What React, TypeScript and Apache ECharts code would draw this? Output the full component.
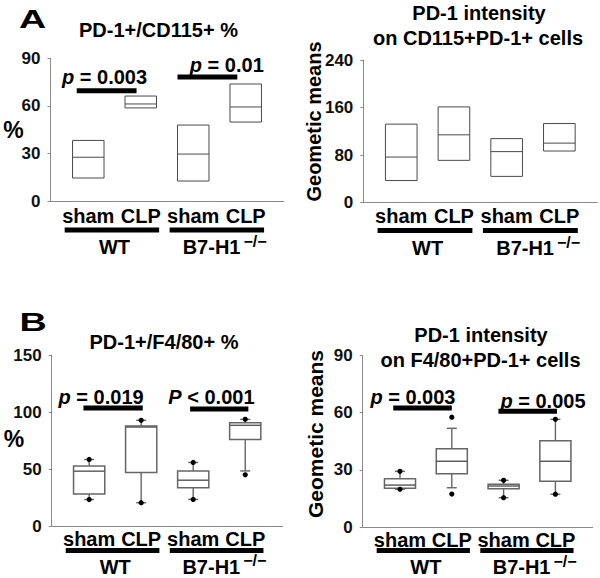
import React, { useEffect, useRef } from 'react';
import * as echarts from 'echarts';

const FONT = "'Liberation Sans', Arial, Helvetica, sans-serif";

// ---------- shared categories ----------
const conditions = ['sham', 'CLP', 'sham', 'CLP'];
const positions = [1, 2, 3, 4];
const groups = ['WT', 'B7-H1'];
const groupSup = ['', '−/−'];
const groupMembers = [[1, 2], [3, 4]];

// ---------- Panel A left: PD-1+/CD115+ % ----------
const cd115PctTicks = [0, 30, 60, 90];
const cd115PctLow = [14.5, 58.7, 12.6, 49.8];
const cd115PctMedian = [27.6, 61.2, 29.6, 59.3];
const cd115PctHigh = [38.2, 66.2, 47.9, 73.8];
const cd115PctSigFrom = [0.78, 2.7];
const cd115PctSigTo = [1.92, 3.84];
const cd115PctSigY = [69.6, 78.2];
const cd115PctTextX = [1.31, 3.64];
const cd115PctTextY = [78.2, 85.8];
const cd115PctText = ['{i|p} = 0.003', '{i|p} = 0.01'];

// ---------- Panel A right: PD-1 intensity on CD115+PD-1+ ----------
const cd115MfiTicks = [0, 80, 160, 240];
const cd115MfiLow = [37, 71, 44, 86.7];
const cd115MfiMedian = [76.5, 114, 85.7, 100];
const cd115MfiHigh = [132, 161, 107.6, 133];

// ---------- Panel B left: PD-1+/F4/80+ % ----------
const f480PctTicks = [0, 50, 100, 150];
const f480PctWhiskerLow = [23.6, 20.8, 23.7, 48.6];
const f480PctQ1 = [28.5, 47.3, 33.8, 76];
const f480PctMedian = [48.4, 87.0, 40.5, 88.5];
const f480PctQ3 = [53.0, 87.9, 48.6, 90.8];
const f480PctWhiskerHigh = [58.6, 92.9, 56, 93.7];
const f480PctDotLow = [23.6, 20.8, 23.7, 45.2];
const f480PctDotHigh = [58.6, 92.9, 56, 93.7];
const f480PctSigFrom = [0.89, 2.94];
const f480PctSigTo = [2.03, 4.06];
const f480PctSigY = [103.6, 102.8];
const f480PctTextX = [1.23, 3.35];
const f480PctTextY = [113, 113.3];
const f480PctText = ['{i|p} = 0.019', '{i|P} < 0.001'];

// ---------- Panel B right: PD-1 intensity on F4/80+PD-1+ ----------
const f480MfiTicks = [0, 30, 60, 90];
const f480MfiWhiskerLow = [19.8, 20.6, 15.4, 17.2];
const f480MfiQ1 = [20.3, 28, 20.1, 24];
const f480MfiMedian = [22, 34.5, 21.5, 34.5];
const f480MfiQ3 = [25.3, 41.1, 22.4, 45.3];
const f480MfiWhiskerHigh = [29.2, 51.8, 24.5, 56.5];
const f480MfiDotLow = [19.8, 17.3, 15.4, 17.2];
const f480MfiDotHigh = [29.2, 57.6, 24.5, 56.5];
const f480MfiSigFrom = [0.87, 2.9];
const f480MfiSigTo = [2.0, 4.03];
const f480MfiSigY = [62.4, 60.7];
const f480MfiTextX = [1.25, 3.76];
const f480MfiTextY = [68.1, 66.3];
const f480MfiText = ['{i|p} = 0.003', '{i|p} = 0.005'];

// ---------- layout / style ----------
const X_MIN = 0.28;
const X_MAX = 4.72;
const BOX_W = 0.6;
const AXIS_COLOR = '#8a8a8a';
const BOX_COLOR = '#4a4a4a';

const grids = [
  { left: 50.5, top: 58.3, width: 233, height: 142.7 },
  { left: 363.3, top: 60, width: 234, height: 142.5 },
  { left: 51.7, top: 355, width: 231, height: 171.5 },
  { left: 362.7, top: 355.5, width: 230, height: 171.5 },
];
// pixel offsets below the x axis: condition label, group bar, group label
const labelOffsets = [
  { cond: 14.5, bar: 29, group: 46 },
  { cond: 13.5, bar: 28, group: 45.5 },
  { cond: 12.5, bar: 24, group: 40 },
  { cond: 13, bar: 23.5, group: 40 },
];

function yAxisFor(idx: number, ticks: number[]) {
  return {
    type: 'value',
    gridIndex: idx,
    min: ticks[0],
    max: ticks[ticks.length - 1],
    interval: ticks[1] - ticks[0],
    axisLine: { show: true, lineStyle: { color: AXIS_COLOR, width: 1 } },
    axisTick: { show: true, inside: false, length: 3, lineStyle: { color: AXIS_COLOR } },
    axisLabel: {
      show: true,
      margin: 10,
      color: '#111',
      fontFamily: FONT,
      fontWeight: 'bold',
      fontSize: 17,
    },
    splitLine: { show: false },
  };
}

function xAxisFor(idx: number) {
  return {
    type: 'value',
    gridIndex: idx,
    min: X_MIN,
    max: X_MAX,
    axisLine: { show: true, onZero: false, lineStyle: { color: AXIS_COLOR, width: 1 } },
    axisTick: { show: false },
    axisLabel: { show: false },
    splitLine: { show: false },
  };
}

function simpleBoxSeries(idx: number, low: number[], med: number[], high: number[]) {
  return {
    type: 'custom',
    xAxisIndex: idx,
    yAxisIndex: idx,
    data: positions.map((p, i) => [p, low[i], med[i], high[i]]),
    encode: { x: 0, y: [1, 2, 3] },
    renderItem: (params: any, api: any) => {
      const x = api.value(0);
      const w = api.size([BOX_W, 0])[0];
      const lo = api.coord([x, api.value(1)]);
      const md = api.coord([x, api.value(2)]);
      const hi = api.coord([x, api.value(3)]);
      return {
        type: 'group',
        children: [
          {
            type: 'rect',
            shape: { x: lo[0] - w / 2, y: hi[1], width: w, height: lo[1] - hi[1] },
            style: { fill: 'none', stroke: BOX_COLOR, lineWidth: 1 },
          },
          {
            type: 'line',
            shape: { x1: md[0] - w / 2, y1: md[1], x2: md[0] + w / 2, y2: md[1] },
            style: { stroke: BOX_COLOR, lineWidth: 1 },
          },
        ],
      };
    },
  };
}

function whiskerBoxSeries(
  idx: number,
  wl: number[], q1: number[], med: number[], q3: number[], wh: number[],
  dl: number[], dh: number[],
) {
  return {
    type: 'custom',
    xAxisIndex: idx,
    yAxisIndex: idx,
    data: positions.map((p, i) => [p, wl[i], q1[i], med[i], q3[i], wh[i], dl[i], dh[i]]),
    encode: { x: 0, y: [1, 2, 3, 4, 5, 6, 7] },
    renderItem: (params: any, api: any) => {
      const x = api.value(0);
      const w = api.size([BOX_W, 0])[0];
      const cap = 10;
      const pWl = api.coord([x, api.value(1)]);
      const pQ1 = api.coord([x, api.value(2)]);
      const pMd = api.coord([x, api.value(3)]);
      const pQ3 = api.coord([x, api.value(4)]);
      const pWh = api.coord([x, api.value(5)]);
      const pDl = api.coord([x, api.value(6)]);
      const pDh = api.coord([x, api.value(7)]);
      const cx = pQ1[0];
      const lineStyle = { stroke: '#666', lineWidth: 1.4 };
      return {
        type: 'group',
        children: [
          { type: 'line', shape: { x1: cx, y1: pQ3[1], x2: cx, y2: pWh[1] }, style: lineStyle },
          { type: 'line', shape: { x1: cx, y1: pQ1[1], x2: cx, y2: pWl[1] }, style: lineStyle },
          { type: 'line', shape: { x1: cx - cap / 2, y1: pWh[1], x2: cx + cap / 2, y2: pWh[1] }, style: lineStyle },
          { type: 'line', shape: { x1: cx - cap / 2, y1: pWl[1], x2: cx + cap / 2, y2: pWl[1] }, style: lineStyle },
          {
            type: 'rect',
            shape: { x: cx - w / 2, y: pQ3[1], width: w, height: pQ1[1] - pQ3[1] },
            style: { fill: '#fff', stroke: '#666', lineWidth: 1.5 },
          },
          {
            type: 'line',
            shape: { x1: cx - w / 2, y1: pMd[1], x2: cx + w / 2, y2: pMd[1] },
            style: { stroke: '#555', lineWidth: 1.4 },
          },
          { type: 'circle', shape: { cx, cy: pDl[1], r: 2.6 }, style: { fill: '#000' } },
          { type: 'circle', shape: { cx, cy: pDh[1], r: 2.6 }, style: { fill: '#000' } },
        ],
      };
    },
  };
}

function categorySeries(idx: number) {
  const off = labelOffsets[idx];
  return {
    type: 'custom',
    xAxisIndex: idx,
    yAxisIndex: idx,
    data: positions.map((p) => [p, 0]),
    encode: { x: 0, y: 1 },
    renderItem: (params: any, api: any) => {
      const pt = api.coord([api.value(0), api.value(1)]);
      return {
        type: 'text',
        style: {
          text: conditions[params.dataIndex],
          x: pt[0],
          y: pt[1] + off.cond,
          textAlign: 'center',
          textVerticalAlign: 'middle',
          fill: '#000',
          fontFamily: FONT,
          fontWeight: 'bold',
          fontSize: 20,
        },
      };
    },
  };
}

function groupSeries(idx: number) {
  const off = labelOffsets[idx];
  return {
    type: 'custom',
    xAxisIndex: idx,
    yAxisIndex: idx,
    data: groupMembers.map(([a, b]) => [a - 0.45, b + 0.35, (a + b) / 2, 0]),
    encode: { x: [0, 1, 2], y: 3 },
    renderItem: (params: any, api: any) => {
      const p1 = api.coord([api.value(0), api.value(3)]);
      const p2 = api.coord([api.value(1), api.value(3)]);
      const pc = api.coord([api.value(2), api.value(3)]);
      const i = params.dataIndex;
      const textBase = {
        fill: '#000',
        fontFamily: FONT,
        fontWeight: 'bold',
        textVerticalAlign: 'middle',
      };
      const children: any[] = [
        {
          type: 'rect',
          shape: { x: p1[0], y: p1[1] + off.bar - 2.5, width: p2[0] - p1[0], height: 5 },
          style: { fill: '#000' },
        },
      ];
      if (groupSup[i]) {
        children.push({
          type: 'text',
          style: { ...textBase, text: groups[i], x: pc[0] + 21, y: p1[1] + off.group, textAlign: 'right', fontSize: 20 },
        });
        children.push({
          type: 'text',
          style: { ...textBase, text: groupSup[i], x: pc[0] + 24, y: p1[1] + off.group - 6, textAlign: 'left', fontSize: 16 },
        });
      } else {
        children.push({
          type: 'text',
          style: { ...textBase, text: groups[i], x: pc[0], y: p1[1] + off.group, textAlign: 'center', fontSize: 20 },
        });
      }
      return { type: 'group', children };
    },
  };
}

function sigSeries(idx: number, from: number[], to: number[], ys: number[], tx: number[], ty: number[], texts: string[]) {
  return {
    type: 'custom',
    xAxisIndex: idx,
    yAxisIndex: idx,
    data: from.map((f, i) => [f, to[i], ys[i], tx[i], ty[i]]),
    encode: { x: [0, 1, 3], y: [2, 4] },
    renderItem: (params: any, api: any) => {
      const a = api.coord([api.value(0), api.value(2)]);
      const b = api.coord([api.value(1), api.value(2)]);
      const t = api.coord([api.value(3), api.value(4)]);
      return {
        type: 'group',
        children: [
          {
            type: 'text',
            style: {
              text: texts[params.dataIndex],
              x: t[0],
              y: t[1],
              textAlign: 'center',
              textVerticalAlign: 'middle',
              fill: '#000',
              fontFamily: FONT,
              fontWeight: 'bold',
              fontSize: 20,
              rich: {
                i: { fontStyle: 'italic', fontWeight: 'bold', fontFamily: FONT, fontSize: 20, fill: '#000' },
              },
            },
          },
          {
            type: 'rect',
            shape: { x: a[0], y: a[1] - 2.5, width: b[0] - a[0], height: 5 },
            style: { fill: '#000' },
          },
        ],
      };
    },
  };
}

function staticText(text: string, x: number, y: number, fontSize: number, extra: any = {}) {
  return {
    type: 'text',
    x,
    y,
    ...extra,
    style: {
      text,
      fill: '#000',
      fontFamily: FONT,
      fontWeight: 'bold',
      fontSize,
      textAlign: 'center',
      textVerticalAlign: 'middle',
    },
  };
}

export default function App() {
  const ref = useRef<HTMLDivElement>(null);

  useEffect(() => {
    if (!ref.current) return;
    const chart = echarts.init(ref.current, undefined, { renderer: 'svg' });
    const option: any = {
      animation: false,
      backgroundColor: '#fff',
      grid: grids.map((g) => ({ ...g, containLabel: false, outerBoundsMode: 'none' })),
      xAxis: [0, 1, 2, 3].map((i) => xAxisFor(i)),
      yAxis: [
        yAxisFor(0, cd115PctTicks),
        yAxisFor(1, cd115MfiTicks),
        yAxisFor(2, f480PctTicks),
        yAxisFor(3, f480MfiTicks),
      ],
      graphic: [
        staticText('A', 32.5, 19.5, 26, { scaleX: 1.45 }),
        staticText('B', 33, 322.5, 26, { scaleX: 1.45 }),
        staticText('PD-1+/CD115+ %', 158.5, 29.5, 20),
        staticText('PD-1 intensity', 479, 13, 20),
        staticText('on CD115+PD-1+ cells', 478, 37.5, 20),
        staticText('PD-1+/F4/80+ %', 164, 342.3, 20),
        staticText('PD-1 intensity', 481, 334.5, 20),
        staticText('on F4/80+PD-1+ cells', 480.5, 360, 20),
        staticText('%', 13.5, 130, 23),
        staticText('%', 14, 439, 23),
        staticText('Geometic means', 313.5, 121.5, 20, { rotation: Math.PI / 2 }),
        staticText('Geometic means', 315, 434, 21, { rotation: Math.PI / 2 }),
      ],
      series: [
        simpleBoxSeries(0, cd115PctLow, cd115PctMedian, cd115PctHigh),
        simpleBoxSeries(1, cd115MfiLow, cd115MfiMedian, cd115MfiHigh),
        whiskerBoxSeries(2, f480PctWhiskerLow, f480PctQ1, f480PctMedian, f480PctQ3, f480PctWhiskerHigh, f480PctDotLow, f480PctDotHigh),
        whiskerBoxSeries(3, f480MfiWhiskerLow, f480MfiQ1, f480MfiMedian, f480MfiQ3, f480MfiWhiskerHigh, f480MfiDotLow, f480MfiDotHigh),
        sigSeries(0, cd115PctSigFrom, cd115PctSigTo, cd115PctSigY, cd115PctTextX, cd115PctTextY, cd115PctText),
        sigSeries(2, f480PctSigFrom, f480PctSigTo, f480PctSigY, f480PctTextX, f480PctTextY, f480PctText),
        sigSeries(3, f480MfiSigFrom, f480MfiSigTo, f480MfiSigY, f480MfiTextX, f480MfiTextY, f480MfiText),
        ...[0, 1, 2, 3].map((i) => categorySeries(i)),
        ...[0, 1, 2, 3].map((i) => groupSeries(i)),
      ],
    };
    chart.setOption(option);
    return () => chart.dispose();
  }, []);

  return (
    <div
      ref={ref}
      style={{ position: 'absolute', left: 0, top: 0, width: 600, height: 578, background: '#fff' }}
    />
  );
}
